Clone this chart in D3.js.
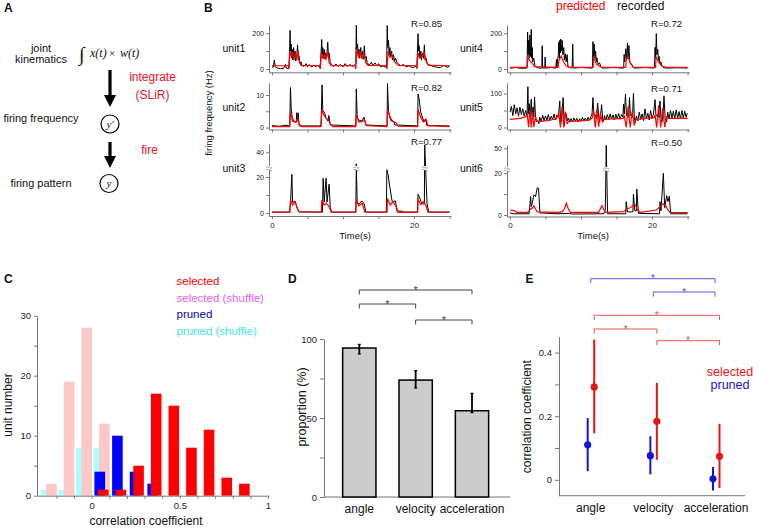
<!DOCTYPE html>
<html><head><meta charset="utf-8">
<script src="https://cdn.jsdelivr.net/npm/d3@7"></script>
<style>body{margin:0;background:#fff}svg{display:block}</style>
</head><body><svg id="fig" width="764" height="528"></svg>
<script>
// ---------------- DATA ----------------
const unitNames = ["unit1","unit2","unit3","unit4","unit5","unit6"];
const rLabels = ["R=0.85","R=0.82","R=0.77","R=0.72","R=0.71","R=0.50"];
const timeTicks = [0,5,10,15,20,25];
const timeTickLabels = [0,20];
const unit1YTicks=[0,100,200], unit1YLabels=[0,200];
const unit2YTicks=[0,5,10], unit2YLabels=[0,10];
const unit3YTicks=[0,10,20,40], unit3YLabels=[0,20,40];
const unit4YTicks=[0,100,200], unit4YLabels=[0,200];
const unit5YTicks=[0,50,100], unit5YLabels=[0,100];
const unit6YTicks=[0,10,20,50], unit6YLabels=[0,20,50];

const unit1Recorded=[[0,12],[0.2,10],[0.33,50],[0.45,12],[0.8,5],[1.2,2],[1.6,3],[1.9,25],[2.0,5],[2.35,3],[2.45,60],[2.55,216],[2.62,100],[2.7,140],[2.78,60],[2.86,110],[2.95,50],[3.05,120],[3.15,60],[3.25,100],[3.35,45],[3.5,80],[3.6,135],[3.7,50],[3.8,70],[3.95,30],[4.1,40],[4.2,20],[4.5,15],[4.8,30],[5.0,12],[5.2,25],[5.6,12],[5.9,22],[6.2,12],[6.4,20],[6.7,10],[6.85,40],[7.0,165],[7.07,80],[7.15,120],[7.25,60],[7.35,110],[7.45,55],[7.55,90],[7.7,60],[7.85,150],[7.95,70],[8.05,90],[8.2,35],[8.4,25],[8.7,15],[9,28],[9.3,14],[9.6,25],[10,12],[10.3,30],[10.6,15],[11,25],[11.3,14],[11.6,22],[11.8,30],[11.87,245],[11.95,110],[12.05,140],[12.15,70],[12.25,110],[12.35,60],[12.5,120],[12.6,60],[12.75,100],[12.9,55],[13.0,130],[13.1,60],[13.25,70],[13.4,35],[13.7,22],[14.0,38],[14.2,18],[14.5,34],[14.8,16],[15.0,30],[15.3,12],[15.6,18],[16.0,10],[16.15,30],[16.22,243],[16.3,120],[16.4,160],[16.5,80],[16.6,120],[16.7,70],[16.85,100],[16.95,50],[17.1,80],[17.25,45],[17.4,60],[17.6,35],[17.8,30],[18.1,18],[18.5,25],[18.9,12],[19.3,18],[19.7,8],[20.1,12],[20.4,20],[20.56,198],[20.63,100],[20.72,130],[20.82,60],[20.95,100],[21.05,50],[21.2,90],[21.35,60],[21.45,135],[21.55,50],[21.7,60],[21.85,30],[22.2,22],[22.7,15],[23.2,10],[23.7,8],[24.2,20],[24.6,10],[25,14]];
const unit1Predicted=[[0,18],[2.3,18],[2.4,0],[2.5,100],[2.7,70],[2.9,95],[3.1,50],[3.3,80],[3.5,60],[3.65,105],[3.85,40],[4.1,20],[6.7,18],[6.8,0],[6.95,90],[7.15,60],[7.4,80],[7.6,55],[7.85,100],[8.05,35],[8.3,18],[11.7,18],[11.8,0],[11.95,110],[12.2,70],[12.4,95],[12.7,60],[12.95,85],[13.2,35],[13.5,20],[16.1,18],[16.2,0],[16.35,100],[16.6,65],[16.9,75],[17.2,45],[17.5,30],[17.8,20],[20.3,18],[20.4,0],[20.55,90],[20.8,60],[21.1,70],[21.4,95],[21.7,40],[22.0,22],[25,18]];
const unit2Recorded=[[0,0.6],[1,0.4],[2,0.7],[2.5,0.5],[2.6,12.3],[2.7,6],[2.85,3],[3.1,2],[3.4,1.5],[3.5,4.6],[3.6,2],[3.7,4.5],[3.8,1],[4.2,0.5],[6.9,0.5],[7.05,13.1],[7.15,5.3],[7.4,4.5],[7.6,3],[7.9,2],[8.0,3.7],[8.2,0.8],[11.8,0.5],[11.87,11.9],[12,3],[12.3,2.2],[12.7,2],[12.95,3.2],[13.2,0.8],[16.2,0.5],[16.26,13.5],[16.4,5],[16.7,2.2],[17.1,2],[17.3,0.8],[20.5,0.5],[20.56,10.3],[20.7,9],[20.93,4.8],[21.4,1.7],[21.6,2.7],[21.8,0.6],[25,0.5]];
const unit2Predicted=[[0,0.3],[2.5,0.3],[2.62,4.6],[2.9,1.9],[3.36,1.6],[3.64,2.7],[3.83,0.6],[4.2,0.3],[6.9,0.3],[7.01,5.3],[7.34,3.7],[7.66,2.7],[7.94,2.5],[8.27,0.8],[8.6,0.3],[11.8,0.3],[11.87,3.8],[12.24,1.7],[12.71,1.9],[12.99,2.5],[13.27,0.6],[16.2,0.3],[16.26,5.6],[16.54,3.7],[16.92,1.9],[17.48,1.5],[17.76,0.4],[20.5,0.3],[20.56,5.6],[20.93,3.2],[21.31,1.7],[21.68,2.5],[21.96,0.6],[25,0.3]];
const unit3Recorded=[[0,0.5],[2.5,0.5],[2.62,7],[2.8,21.5],[2.9,6],[3.27,6.5],[3.5,3],[3.8,0.5],[7.1,0.5],[7.2,19.3],[7.35,6],[7.62,19.3],[7.75,6],[8.04,16],[8.2,3],[8.4,0.5],[11.8,0.5],[11.87,29],[12.0,5.4],[12.3,5],[12.62,6.7],[12.99,5],[13.2,0.5],[16.1,0.5],[16.17,24],[16.36,21],[16.54,15.5],[16.92,6.3],[17.38,6.7],[17.6,1],[18.3,1],[18.5,0.5],[20.5,0.5],[20.56,10.4],[20.75,9],[21.1,5],[21.45,5],[21.5,47],[21.82,5.4],[22.06,0.5],[25,0.5]];
const unit3Predicted=[[0,0.4],[2.5,0.4],[2.62,7.2],[2.9,4.4],[3.18,6.3],[3.46,4],[3.74,0.8],[6.95,0.4],[7.01,7.2],[7.34,4.4],[7.66,5.4],[8.04,3.5],[8.36,0.4],[11.8,0.4],[11.87,7.2],[12.24,4],[12.71,5.4],[13.08,0.4],[16.2,0.4],[16.26,8.1],[16.64,4.4],[17.01,6.3],[17.48,3.5],[17.76,0.3],[20.5,0.4],[20.56,7.6],[20.93,4.8],[21.31,6.3],[21.68,4.1],[21.96,0.4],[25,0.4]];
const unit4Recorded=[[0,5],[0.8,8],[1.5,4],[2.4,5],[2.48,207],[2.55,80],[2.6,160],[2.7,60],[2.8,190],[2.9,70],[2.99,221],[3.05,60],[3.13,120],[3.2,40],[3.35,60],[3.5,20],[3.7,10],[4.0,6],[4.48,5],[4.53,130],[4.6,5],[4.9,5],[4.95,67],[5.0,5],[5.8,8],[6.45,5],[6.54,54],[6.6,10],[6.8,80],[6.87,150],[6.95,60],[7.0,160],[7.1,90],[7.15,167],[7.25,100],[7.34,160],[7.45,80],[7.57,120],[7.65,50],[7.8,85],[7.9,40],[8.04,80],[8.15,20],[8.27,10],[8.75,5],[8.83,139],[8.9,5],[10,8],[11.6,5],[11.68,153],[11.75,70],[11.85,140],[11.96,60],[12.05,100],[12.15,40],[12.24,63],[12.4,25],[12.6,35],[12.8,12],[13,5],[14.5,8],[16.0,5],[16.07,81],[16.15,40],[16.3,113],[16.4,50],[16.54,144],[16.62,60],[16.75,131],[16.85,40],[17.0,30],[17.15,27],[17.3,10],[17.5,5],[19,8],[20.35,5],[20.42,121],[20.5,60],[20.6,198],[20.68,80],[20.8,110],[20.9,50],[21.0,70],[21.1,30],[21.25,40],[21.4,15],[21.6,8],[22,5],[23.5,7],[25,5]];
const unit4Predicted=[[0,9],[2.4,9],[2.52,67],[2.8,45],[3.13,31],[3.46,13],[6.8,9],[6.87,45],[7.2,72],[7.57,36],[7.94,18],[8.3,9],[11.7,9],[11.78,67],[12.15,27],[12.52,18],[12.9,9],[16.3,9],[16.36,54],[16.64,67],[17.01,27],[17.4,9],[20.5,9],[20.56,67],[20.84,45],[21.21,23],[21.59,13],[22,9],[25,9]];
const unit5Recorded=[[0,45],[0.2,62],[0.4,35],[0.6,67],[0.8,40],[1.0,58],[1.2,33],[1.4,60],[1.6,38],[1.8,55],[2.0,34],[2.2,50],[2.4,36],[2.52,120],[2.6,40],[2.71,70],[2.85,30],[2.99,83],[3.1,35],[3.25,60],[3.35,30],[3.46,90],[3.6,25],[3.74,16],[3.9,20],[4.07,11],[4.2,30],[4.4,18],[4.6,36],[4.8,20],[5.0,34],[5.2,22],[5.4,38],[5.6,20],[5.8,33],[6.0,24],[6.2,40],[6.4,22],[6.6,36],[6.8,30],[7.01,78],[7.1,30],[7.2,16],[7.35,50],[7.48,88],[7.6,25],[7.66,6],[7.8,45],[7.94,37],[8.1,20],[8.27,27],[8.4,16],[8.6,26],[8.8,17],[9.0,28],[9.2,18],[9.4,27],[9.6,16],[9.8,26],[10.0,18],[10.2,30],[10.4,19],[10.6,28],[10.8,20],[11.0,30],[11.2,21],[11.4,32],[11.55,40],[11.68,88],[11.8,40],[12.01,37],[12.15,25],[12.34,72],[12.5,30],[12.62,16],[12.75,35],[12.9,67],[13.05,25],[13.18,18],[13.3,35],[13.5,22],[13.7,38],[13.9,24],[14.1,40],[14.3,25],[14.5,37],[14.7,22],[14.9,39],[15.1,26],[15.3,41],[15.5,24],[15.7,38],[15.9,30],[15.98,69],[16.1,40],[16.26,98],[16.4,35],[16.54,37],[16.7,30],[16.82,88],[16.95,35],[17.1,37],[17.25,30],[17.38,100],[17.5,30],[17.62,16],[17.8,34],[18.0,20],[18.2,45],[18.4,24],[18.6,40],[18.8,20],[19.0,55],[19.2,25],[19.4,42],[19.6,22],[19.8,50],[20.0,26],[20.2,40],[20.42,82],[20.55,35],[20.75,37],[20.9,30],[21.12,78],[21.25,30],[21.4,16],[21.55,40],[21.68,93],[21.85,25],[22.06,16],[22.2,45],[22.4,25],[22.6,50],[22.8,28],[23.0,48],[23.2,26],[23.4,52],[23.6,27],[23.8,47],[24.0,25],[24.2,50],[24.4,28],[24.6,48],[24.8,30],[24.95,42]];
const unit5Predicted=[[0,24],[1.5,27],[2.2,32],[2.43,37],[2.62,1],[2.8,52],[2.99,0],[3.18,47],[3.36,1],[3.6,32],[3.83,18],[4.5,18],[6.5,25],[6.87,42],[7.1,0],[7.34,62],[7.57,0],[7.8,47],[8.04,11],[8.27,18],[11.0,21],[11.54,27],[11.78,47],[12.01,0],[12.24,52],[12.48,2],[12.71,42],[12.99,16],[13.18,24],[15.98,27],[16.07,37],[16.36,0],[16.64,62],[16.92,0],[17.2,47],[17.48,6],[17.76,24],[20.3,29],[20.42,37],[20.65,0],[20.93,65],[21.21,0],[21.5,57],[21.78,1],[22.06,32],[22.52,27],[25,27]];
const unit6Recorded=[[0,1],[0.5,0.6],[2.7,0.6],[2.9,8.8],[3.0,4],[3.13,5.6],[3.36,9.6],[3.6,8.8],[3.83,13],[4.02,12.8],[4.21,1],[6.6,0.6],[8.5,0.8],[8.55,0.5],[13.2,0.6],[13.41,2.4],[13.46,11],[13.55,54],[13.74,0.6],[16.3,0.6],[16.36,6.4],[16.54,1.5],[17.3,1.5],[17.38,9.9],[17.57,2],[17.8,2],[17.85,12.4],[18.08,0.8],[21.05,0.6],[21.12,6.4],[21.25,2],[21.59,20],[21.78,3.5],[22.06,9.3],[22.24,6.4],[22.43,9],[22.62,0.6],[25,0.6]];
const unit6Predicted=[[0,2.4],[0.5,2.2],[1.03,1.3],[2.5,1.3],[2.9,2.9],[3.18,3.5],[3.36,4.5],[3.6,2.9],[3.83,1.5],[6.9,1.3],[7.34,1.6],[7.66,3],[7.94,5.6],[8.22,2.9],[8.5,1.3],[12.5,1.3],[12.52,1.6],[12.94,4.5],[13.18,2.9],[13.41,1.3],[16.0,1.6],[16.54,3],[16.92,3.5],[17.29,4.5],[17.66,4.8],[17.94,2.4],[18.32,1.3],[20.65,2.4],[21.12,4],[21.59,5.4],[21.87,4.8],[22.15,2.9],[22.52,1.3],[25,1.2]];

// Panel C histogram
const histBins=[-0.25,-0.15,-0.05,0.05,0.15,0.25,0.35,0.45,0.55,0.65,0.75,0.85];
const prunedShuffleCounts=[1,1,8,8,0,0,0,0,0,0,0,0];
const selectedShuffleCounts=[2,19,28,12,0,0,0,0,0,0,0,0];
const prunedCounts=[0,0,0,4,10,4,2,0,0,0,0,0];
const selectedCounts=[0,0,0,1,1,5,17,15,8,11,3,2];
const corrTicks=[-0.2,-0.1,0,0.1,0.2,0.3,0.4,0.5,0.6,0.7,0.8,0.9,1.0];
const corrTickLabels=[0,0.5,1];
const countTicks=[0,5,10,15,20,25,30];
const countTickLabels=[0,10,20,30];
const legendC=["selected","selected (shuffle)","pruned","pruned (shuffle)"];

// Panel D
const categories=["angle","velocity","acceleration"];
const proportion=[94.3,74,54.6];
const proportionLow=[90.5,69,53.4];
const proportionHigh=[96.6,80,65.6];
const propTicks=[0,25,50,75,100];
const propTickLabels=[0,50,100];
const sigPairsD=[[0,2],[0,1],[1,2]];

// Panel E
const selectedMean=[0.292,0.184,0.074];
const selectedLow=[0.146,0.063,-0.026];
const selectedHigh=[0.441,0.305,0.176];
const prunedMean=[0.110,0.076,0.003];
const prunedLow=[0.027,0.017,-0.034];
const prunedHigh=[0.194,0.137,0.040];
const coefTicks=[0,0.1,0.2,0.3,0.4];
const coefTickLabels=[0,0.2,0.4];
const sigPairsEPruned=[[0,2],[1,2]];
const sigPairsESelected=[[0,2],[0,1],[1,2]];

// ---------------- DRAW ----------------
const FONT="'Liberation Sans', Arial, Helvetica, sans-serif";
const SERIF="'Liberation Serif', 'Times New Roman', serif";
const RED="#ff0000", AX="#777";
const svg=d3.select("#fig");

function txt(x,y,s,o={}){
  const t=svg.append("text").attr("x",x).attr("y",y).text(s)
   .attr("font-family",o.family||FONT).attr("font-size",o.size||11)
   .attr("fill",o.fill||"#111").attr("text-anchor",o.anchor||"start");
  if(o.weight) t.attr("font-weight",o.weight);
  if(o.style) t.attr("font-style",o.style);
  if(o.rotate) t.attr("transform",`rotate(-90,${x},${y})`);
  return t;
}
function styleAxis(g,fs){
  g.attr("font-family",FONT).attr("font-size",fs);
  g.select(".domain").attr("stroke",AX);
  g.selectAll(".tick line").attr("stroke",AX);
  g.selectAll(".tick text").attr("fill","#222");
}

// ---- Panel A ----
txt(4,12,"A",{size:12,weight:"bold"});
txt(41,51.5,"joint",{size:11,anchor:"middle"});
txt(41,63,"kinematics",{size:11,anchor:"middle"});
txt(79,61,"∫",{size:20,family:SERIF});
txt(90,57,"x(t)",{size:12,family:SERIF,style:"italic"});
txt(109,57,"×",{size:11,family:SERIF});
txt(120,57,"w(t)",{size:12,family:SERIF,style:"italic"});
svg.append("line").attr("x1",110).attr("x2",110).attr("y1",70).attr("y2",96).attr("stroke","#000").attr("stroke-width",3.2);
svg.append("path").attr("d","M104,95L116,95L110,107Z").attr("fill","#000");
txt(152.5,81,"integrate",{size:12,fill:"#e8141e",anchor:"middle"});
txt(152.5,99,"(SLiR)",{size:12,fill:"#e8141e",anchor:"middle"});
txt(41,122,"firing frequency",{size:11,anchor:"middle"});
svg.append("circle").attr("cx",110).attr("cy",124).attr("r",9).attr("fill","none").attr("stroke","#000").attr("stroke-width",1.2);
txt(110,127.5,"y'",{size:11,family:SERIF,style:"italic",anchor:"middle"});
svg.append("line").attr("x1",110).attr("x2",110).attr("y1",142).attr("y2",157).attr("stroke","#000").attr("stroke-width",3.2);
svg.append("path").attr("d","M104,156L116,156L110,168Z").attr("fill","#000");
txt(149.5,154,"fire",{size:12,fill:"#e8141e",anchor:"middle"});
txt(41,187,"firing pattern",{size:11,anchor:"middle"});
svg.append("circle").attr("cx",109).attr("cy",183.5).attr("r",9).attr("fill","none").attr("stroke","#000").attr("stroke-width",1.2);
txt(109,186.5,"y",{size:11,family:SERIF,style:"italic",anchor:"middle"});

// ---- Panel B ----
txt(204,12,"B",{size:12,weight:"bold"});
txt(556,10,"predicted",{size:12,fill:RED});
txt(617,10,"recorded",{size:12});
txt(211.5,113,"firing frequency (Hz)",{size:9.5,rotate:true,anchor:"middle"});

const bPanels=[
 {rec:unit1Recorded,pred:unit1Predicted,ticks:unit1YTicks,labels:unit1YLabels,col:0,yd:[-18.5,246],yr:[72.3,25],ly:52,ry:26.7,bottom:false},
 {rec:unit2Recorded,pred:unit2Predicted,ticks:unit2YTicks,labels:unit2YLabels,col:0,yd:[-0.6,13.7],yr:[129.5,83],ly:110.5,ry:91,bottom:false},
 {rec:unit3Recorded,pred:unit3Predicted,ticks:unit3YTicks,labels:unit3YLabels,col:0,yd:[-1.7,25,48],yr:[216,168,144],ly:172,ry:145,bottom:true,brk:25,brkT:[11.87,21.5]},
 {rec:unit4Recorded,pred:unit4Predicted,ticks:unit4YTicks,labels:unit4YLabels,col:1,yd:[-18.5,246],yr:[72.3,25],ly:52,ry:27.3,bottom:false},
 {rec:unit5Recorded,pred:unit5Predicted,ticks:unit5YTicks,labels:unit5YLabels,col:1,yd:[-5.9,130.9],yr:[129.5,83],ly:110.5,ry:91.7,bottom:false},
 {rec:unit6Recorded,pred:unit6Predicted,ticks:unit6YTicks,labels:unit6YLabels,col:1,yd:[-0.7,22,54.5],yr:[216.5,169,145],ly:172,ry:145.7,bottom:true,brk:22,brkT:[13.55]}
];
bPanels.forEach((p,i)=>{
  const x0=p.col===0?269:507;
  const x=d3.scaleLinear().domain([-0.42,25.2]).range([x0,x0+182]);
  const y=d3.scaleLinear().domain(p.yd).range(p.yr);
  const yb=p.yr[0];
  const gx=svg.append("g").attr("transform",`translate(0,${yb})`)
    .call(d3.axisBottom(x).tickValues(timeTicks).tickSize(3).tickSizeOuter(0)
      .tickFormat(d=>p.bottom&&timeTickLabels.includes(d)?d:""));
  styleAxis(gx,8);
  const gy=svg.append("g").attr("transform",`translate(${x0},0)`)
    .call(d3.axisLeft(y).tickValues(p.ticks).tickSize(3).tickSizeOuter(0).tickPadding(2)
      .tickFormat(d=>p.labels.includes(d)?d:""));
  styleAxis(gy,7);
  const line=d3.line().x(d=>x(d[0])).y(d=>y(d[1]));
  svg.append("path").attr("d",line(p.rec)).attr("fill","none").attr("stroke","#000").attr("stroke-width",1).attr("stroke-linejoin","bevel");
  svg.append("path").attr("d",line(p.pred)).attr("fill","none").attr("stroke",RED).attr("stroke-width",1.2);
  txt(p.col===0?222.5:460,p.ly,unitNames[i],{size:10.5});
  txt(p.col===0?442:682,p.ry,rLabels[i],{size:9.5,anchor:"end"});
  if(p.bottom) txt(x(11.7),238.5,"Time(s)",{size:9.5,anchor:"middle"});
  if(p.brk!==undefined){
    const by=y(p.brk);
    const marks=[x0].concat(p.brkT.map(t=>x(t)));
    marks.forEach(mx=>{
      svg.append("rect").attr("x",mx-3).attr("y",by-2).attr("width",6).attr("height",4).attr("fill","#fff");
      svg.append("path").attr("d",`M${mx-3},${by-0.5}q1.5,-1.5 3,0t3,0M${mx-3},${by+2}q1.5,-1.5 3,0t3,0`)
        .attr("fill","none").attr("stroke","#888").attr("stroke-width",0.8);
    });
  }
});

// ---- Panel C ----
txt(4,283,"C",{size:12,weight:"bold"});
const xC=d3.scaleLinear().domain([-0.31,1.0]).range([37,268]);
const yC=d3.scaleLinear().domain([0,30]).range([495.7,315.7]);
const bw=0.06;
const seriesC=[
  {v:prunedShuffleCounts,off:-0.01,c:"#aaffff"},
  {v:selectedShuffleCounts,off:0.022,c:"#ffc8c8"},
  {v:prunedCounts,off:-0.004,c:"#0000ff"},
  {v:selectedCounts,off:0.016,c:"#ff0000"}
];
seriesC.forEach(s=>{
  svg.append("g").selectAll("rect").data(histBins.map((b,i)=>[b,s.v[i]]).filter(d=>d[1]>0)).join("rect")
   .attr("x",d=>xC(d[0]+s.off-bw/2)).attr("width",xC(bw)-xC(0))
   .attr("y",d=>yC(d[1])).attr("height",d=>yC(0)-yC(d[1])).attr("fill",s.c);
});
const gxc=svg.append("g").attr("transform","translate(0,495.7)")
  .call(d3.axisBottom(xC).tickValues(corrTicks).tickSize(3).tickSizeOuter(0).tickPadding(4)
   .tickFormat(d=>corrTickLabels.some(v=>Math.abs(v-d)<1e-9)?String(d):""));
styleAxis(gxc,9.5);
const gyc=svg.append("g").attr("transform","translate(37,0)")
  .call(d3.axisLeft(yC).tickValues(countTicks).tickSize(3).tickSizeOuter(0)
   .tickFormat(d=>countTickLabels.includes(d)?d:""));
styleAxis(gyc,9.5);
txt(12,405,"unit number",{size:12,rotate:true,anchor:"middle"});
txt(146,525,"correlation coefficient",{size:12,anchor:"middle"});
const legCols=["#ff0000","#e860e8","#0000cc","#40e8e8"];
legendC.forEach((s,i)=>txt(176.5,285+i*16.7,s,{size:11.5,fill:legCols[i]}));

// ---- Panel D ----
txt(288,283,"D",{size:12,weight:"bold"});
const xD=d3.scalePoint().domain(categories).range([359.3,472]);
const yD=d3.scaleLinear().domain([0,100]).range([497,339]);
svg.append("line").attr("x1",324).attr("x2",510).attr("y1",497).attr("y2",497).attr("stroke",AX);
const gyd=svg.append("g").attr("transform","translate(324,0)")
  .call(d3.axisLeft(yD).tickValues(propTicks).tickSize(4).tickSizeOuter(0)
   .tickFormat(d=>propTickLabels.includes(d)?d:""));
styleAxis(gyd,9.5);
const barW=33.3;
svg.append("g").selectAll("rect").data(categories).join("rect")
  .attr("x",d=>xD(d)-barW/2).attr("width",barW)
  .attr("y",(d,i)=>yD(proportion[i])).attr("height",(d,i)=>yD(0)-yD(proportion[i]))
  .attr("fill","#cccccc").attr("stroke","#000").attr("stroke-width",1.5);
categories.forEach((c,i)=>{
  const cx=xD(c);
  svg.append("line").attr("x1",cx).attr("x2",cx).attr("y1",yD(proportionLow[i])).attr("y2",yD(proportionHigh[i])).attr("stroke","#000").attr("stroke-width",1.8);
  [proportionLow[i],proportionHigh[i]].forEach(v=>svg.append("line").attr("x1",cx-1.5).attr("x2",cx+1.5).attr("y1",yD(v)).attr("y2",yD(v)).attr("stroke","#000").attr("stroke-width",1.2));
  txt(cx,513,c,{size:12,anchor:"middle"});
});
txt(306,407,"proportion (%)",{size:12.5,rotate:true,anchor:"middle"});
const bracketYD=[290,304,320];
function bracket(xa,xb,yy,col){
  svg.append("path").attr("d",`M${xa},${yy+4.5}V${yy}H${xb}V${yy+4.5}`).attr("fill","none").attr("stroke",col).attr("stroke-width",1);
  txt((xa+xb)/2,yy+3.5,"*",{size:11,fill:col,anchor:"middle"});
}
sigPairsD.forEach((p,i)=>bracket(xD(categories[p[0]]),xD(categories[p[1]]),bracketYD[i],"#444"));

// ---- Panel E ----
txt(525.5,283,"E",{size:12,weight:"bold"});
const xE=d3.scalePoint().domain(categories).range([590.7,716]);
const yE=d3.scaleLinear().domain([-0.05,0.45]).range([495.7,336.7]);
svg.append("line").attr("x1",559).attr("x2",745).attr("y1",495.7).attr("y2",495.7).attr("stroke",AX);
const gye=svg.append("g").attr("transform","translate(559,0)")
  .call(d3.axisLeft(yE).tickValues(coefTicks).tickSize(4).tickSizeOuter(0)
   .tickFormat(d=>coefTickLabels.some(v=>Math.abs(v-d)<1e-9)?String(d):""));
styleAxis(gye,9.5);
const BLUE="#1515d5", RED2="#e81515";
function dots(mean,lo,hi,off,col){
  categories.forEach((c,i)=>{
    const cx=xE(c)+off;
    svg.append("line").attr("x1",cx).attr("x2",cx).attr("y1",yE(lo[i])).attr("y2",yE(hi[i])).attr("stroke",col).attr("stroke-width",2);
    svg.append("circle").attr("cx",cx).attr("cy",yE(mean[i])).attr("r",3.6).attr("fill",col);
  });
}
dots(prunedMean,prunedLow,prunedHigh,-3,BLUE);
dots(selectedMean,selectedLow,selectedHigh,3.5,RED2);
categories.forEach(c=>txt(xE(c),512,c,{size:12,anchor:"middle"}));
txt(531,416.7,"correlation coefficient",{size:12,rotate:true,anchor:"middle"});
txt(730,375.5,"selected",{size:12.5,fill:RED2,anchor:"middle"});
txt(730,388.5,"pruned",{size:12.5,fill:BLUE,anchor:"middle"});
const bracketYEP=[278.7,292], bracketYES=[315.3,329,340.7];
sigPairsEPruned.forEach((p,i)=>bracket(xE(categories[p[0]]),xE(categories[p[1]])-1,bracketYEP[i],"#5a5ae0"));
sigPairsESelected.forEach((p,i)=>bracket(xE(categories[p[0]])+3.5,xE(categories[p[1]])+3.5,bracketYES[i],"#e85555"));
</script></body></html>
